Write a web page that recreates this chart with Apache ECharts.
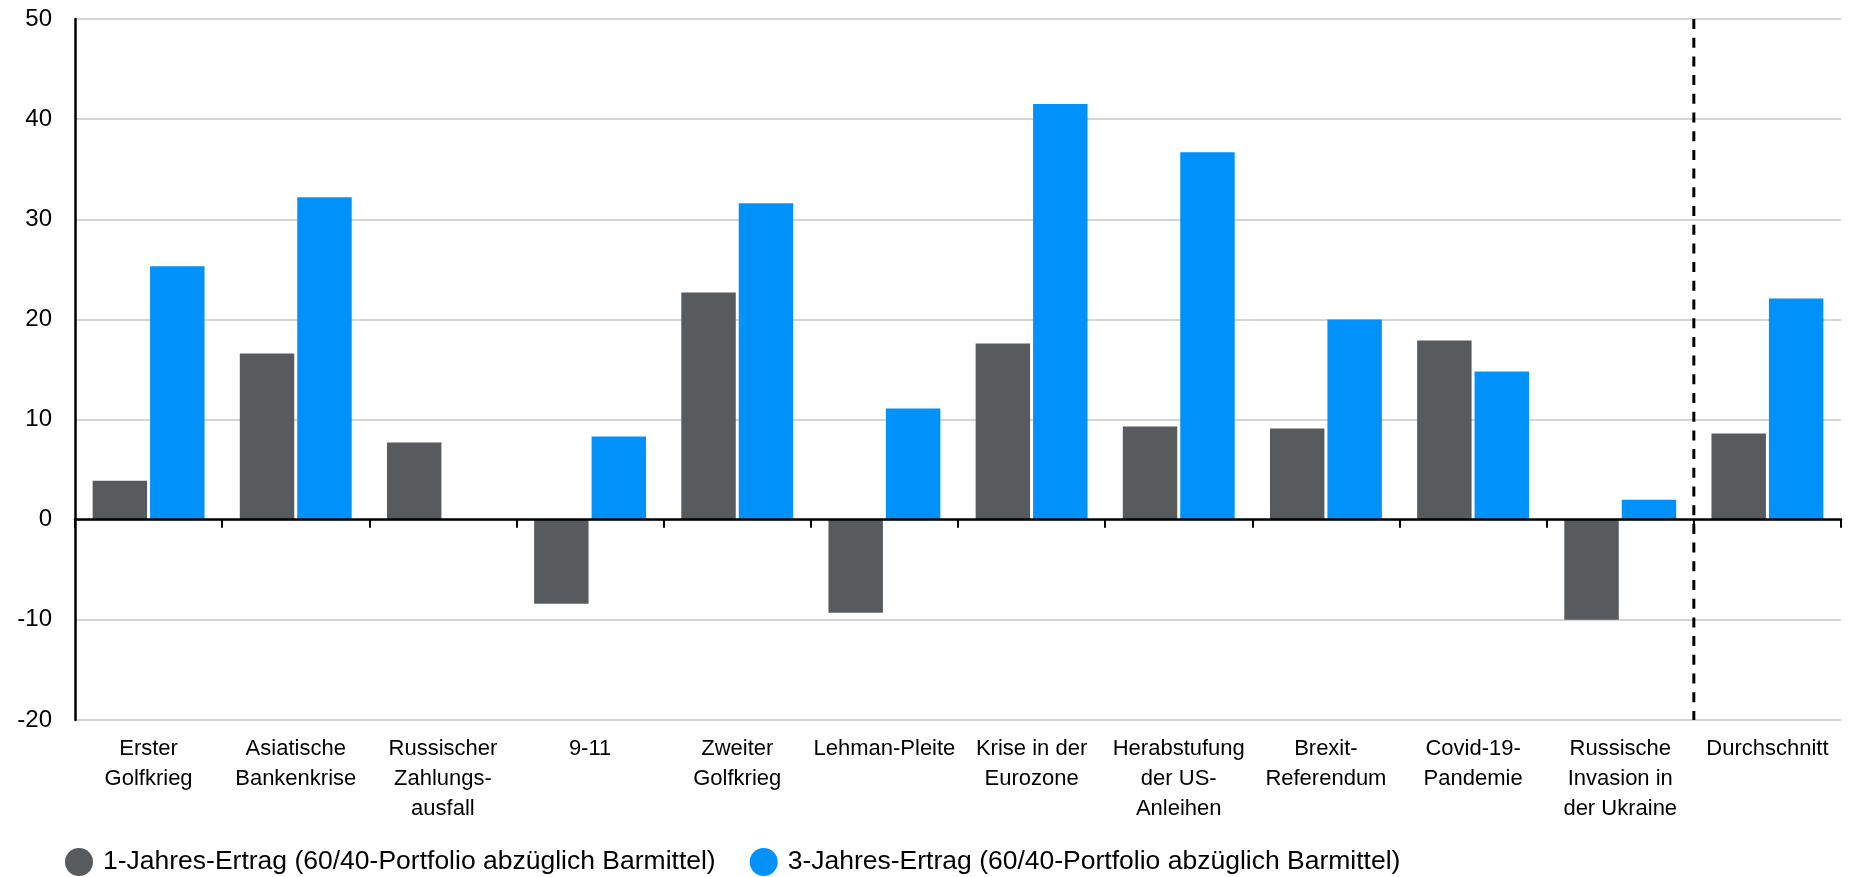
<!DOCTYPE html>
<html>
<head>
<meta charset="utf-8">
<script src="https://cdn.jsdelivr.net/npm/echarts@6/dist/echarts.min.js"></script>
<style>
html,body{margin:0;padding:0;background:#fff;}
#chart{width:1860px;height:877px;}
</style>
</head>
<body>
<div id="chart"></div>
<script>
const categories = [
  "Erster\nGolfkrieg",
  "Asiatische\nBankenkrise",
  "Russischer\nZahlungs-\nausfall",
  "9-11",
  "Zweiter\nGolfkrieg",
  "Lehman-Pleite",
  "Krise in der\nEurozone",
  "Herabstufung\nder US-\nAnleihen",
  "Brexit-\nReferendum",
  "Covid-19-\nPandemie",
  "Russische\nInvasion in\nder Ukraine",
  "Durchschnitt"
];
const seriesNames = [
  "1-Jahres-Ertrag (60/40-Portfolio abzüglich Barmittel)",
  "3-Jahres-Ertrag (60/40-Portfolio abzüglich Barmittel)"
];
const oneYear = [3.9, 16.6, 7.7, -8.4, 22.7, -9.3, 17.6, 9.3, 9.1, 17.9, -10.0, 8.6];
const threeYear = [25.3, 32.2, null, 8.3, 31.6, 11.1, 41.5, 36.7, 20.0, 14.8, 2.0, 22.1];
const yTicks = { min: -20, max: 50, interval: 10 };
const dividerAt = 11; // boundary before "Durchschnitt"
const dividerLine = [[dividerAt, yTicks.max], [dividerAt, yTicks.min]];

const FONT = "Liberation Sans, Arial, sans-serif";
const chart = echarts.init(document.getElementById('chart'), null, {renderer: 'canvas'});
chart.setOption({
  animation: false,
  backgroundColor: '#ffffff',
  grid: { left: 75, right: 19, top: 19, bottom: 157, containLabel: false },
  legend: {
    left: 65, top: 848, padding: 0,
    icon: 'circle', itemWidth: 28, itemHeight: 28, itemGap: 34,
    textStyle: { fontFamily: FONT, fontSize: 26.5, color: '#000', padding: [0, 0, 0, 5] },
    data: seriesNames
  },
  xAxis: [
    {
      type: 'category', data: categories, position: 'bottom',
      axisLine: { show: false, onZero: false }, axisTick: { show: false },
      axisLabel: { interval: 0, fontFamily: FONT, fontSize: 22, lineHeight: 30, color: '#000', margin: 14 }
    },
    {
      type: 'category', data: categories, position: 'bottom', z: 6,
      axisLine: { show: true, onZero: true, lineStyle: { color: '#000', width: 2.5 } },
      axisTick: { show: true, length: 8, lineStyle: { color: '#000', width: 2 } },
      axisLabel: { show: false }
    },
    {
      type: 'value', min: 0, max: categories.length, show: false
    }
  ],
  yAxis: {
    type: 'value', min: yTicks.min, max: yTicks.max, interval: yTicks.interval,
    axisLine: { show: true, onZero: false, lineStyle: { color: '#000', width: 2.5 } },
    axisTick: { show: false },
    axisLabel: { fontFamily: FONT, fontSize: 24, color: '#000', margin: 23 },
    splitLine: { show: true, lineStyle: { color: '#d4d4d4', width: 2 } }
  },
  series: [
    {
      name: seriesNames[0], type: 'bar', xAxisIndex: 0, data: oneYear,
      barWidth: '37%', barGap: '5.5%',
      itemStyle: { color: '#575b5e' }
    },
    {
      name: seriesNames[1], type: 'bar', xAxisIndex: 0, data: threeYear,
      barWidth: '37%', barGap: '5.5%',
      itemStyle: { color: '#0091fa' }
    },
    {
      name: 'divider', type: 'line', xAxisIndex: 2, data: dividerLine,
      symbol: 'none', silent: true, z: 7,
      lineStyle: { color: '#000', width: 3, type: [10, 8.7] }
    }
  ]
});
</script>
</body>
</html>
